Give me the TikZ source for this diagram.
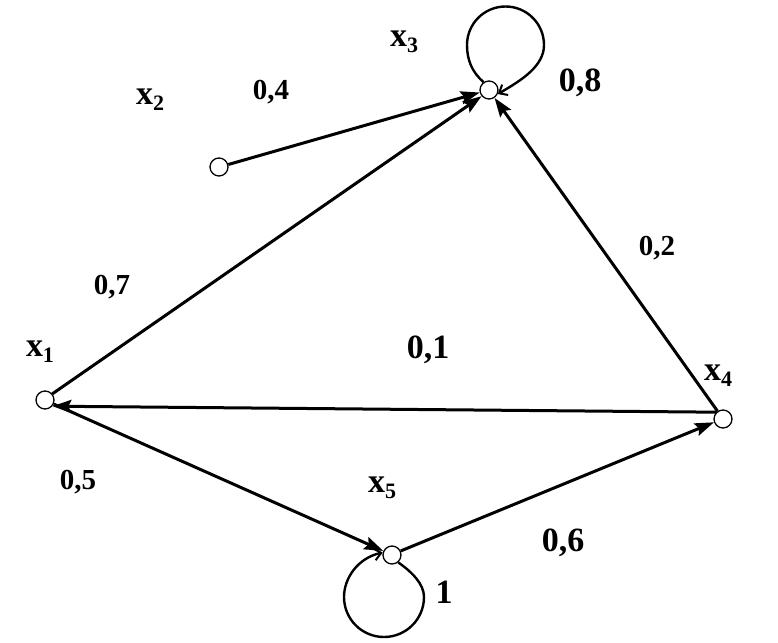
\documentclass[tikz,border=0pt]{standalone}
\usepackage{fontspec}
\setmainfont{Liberation Serif}
\usetikzlibrary{arrows.meta}
\tikzset{
  vert/.style={circle,draw,fill=white,minimum size=18pt,inner sep=0pt,line width=1.3pt},
  edgeline/.style={line width=3pt,-{Stealth[length=19pt,width=13pt,inset=3pt]}},
  loopline/.style={line width=2.4pt,-{Straight Barb[length=7pt,width=12pt,line width=2pt]}},
  lab/.style={inner sep=0pt,font=\bfseries\fontsize{29}{29}\selectfont},
  biglab/.style={inner sep=0pt,font=\bfseries\fontsize{34}{34}\selectfont},
  vlab/.style={inner sep=0pt,font=\bfseries\fontsize{34}{34}\selectfont}
}
\newcommand{\vx}[1]{x\raisebox{-6pt}{\fontsize{22}{22}\selectfont #1}}
\begin{document}
\begin{tikzpicture}[x=1pt,y=-1pt]
\useasboundingbox (0,0) rectangle (778,642);
% vertices
\node[vert] (x1) at (45,400) {};
\node[vert] (x2) at (219,167) {};
\node[vert] (x3) at (489,90) {};
\node[vert] (x4) at (723,419) {};
\node[vert] (x5) at (392,555) {};
% edges
\draw[edgeline] (x1.40) -- (x3.-140);
\draw[edgeline] (x2.15) -- (x3.-165);
\draw[edgeline] (x4.125) -- (x3.-55);
\draw[edgeline] (x4.135) -- (x1.-40);
\draw[edgeline] (x1.-25) -- (x5.155);
\draw[edgeline] (x5.25) -- (x4.-160);
% loops
\draw[loopline] (x3.125) .. controls (472,72) and (467,60) .. (467,45)
  arc[start angle=180,end angle=360,radius=38.5]
  .. controls (544,66) and (522,80) .. (x3.-25);
\draw[loopline] (x5.-50) .. controls (412,572) and (424,584) .. (424,597)
  arc[start angle=0,end angle=180,radius=40]
  .. controls (344,578) and (358,558) .. (x5.165);
% labels
\node[vlab] (l1) at (40,352) {\vx{1}};
\node[vlab] (l2) at (150,100) {\vx{2}};
\node[vlab] (l3) at (404,42) {\vx{3}};
\node[vlab] (l4) at (718,376) {\vx{4}};
\node[vlab] (l5) at (382,488) {\vx{5}};
\node[lab] (w4) at (271,92) {0,4};
\node[lab] (w7) at (112,287) {0,7};
\node[lab] (w2) at (657,248) {0,2};
\node[lab] (w5) at (78,482) {0,5};
\node[biglab] (w8) at (580,83) {0,8};
\node[biglab] (w1) at (428,350) {0,1};
\node[biglab] (w6) at (563,543) {0,6};
\node[biglab] (wone) at (444,592) {1};
\end{tikzpicture}
\end{document}
